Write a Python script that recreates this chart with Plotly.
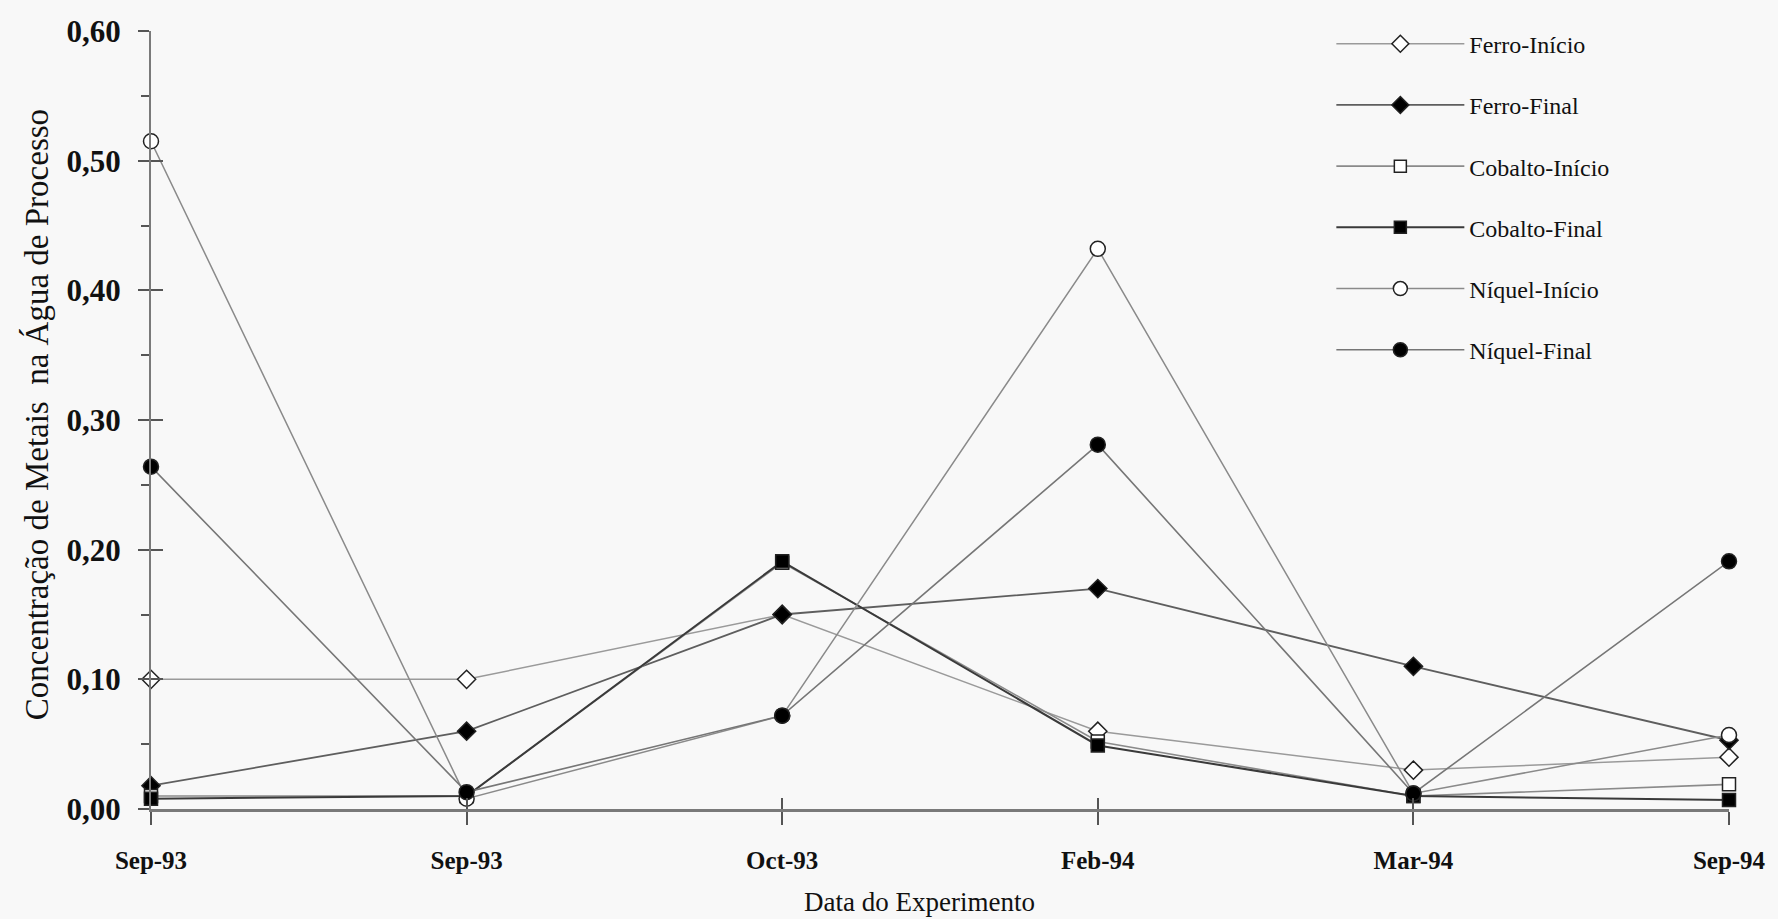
import plotly.graph_objects as go

dates = ["Sep-93", "Sep-93", "Oct-93", "Feb-94", "Mar-94", "Sep-94"]

ferro_inicio = [0.100, 0.100, 0.150, 0.060, 0.030, 0.040]
ferro_final = [0.018, 0.060, 0.150, 0.170, 0.110, 0.053]
cobalto_inicio = [0.010, 0.010, 0.190, 0.052, 0.010, 0.019]
cobalto_final = [0.008, 0.010, 0.191, 0.049, 0.010, 0.007]
niquel_inicio = [0.515, 0.008, 0.072, 0.432, 0.012, 0.057]
niquel_final = [0.264, 0.013, 0.072, 0.281, 0.012, 0.191]

y_ticks = [0.0, 0.1, 0.2, 0.3, 0.4, 0.5, 0.6]

x_pos = list(range(len(dates)))

series = [
    ("Ferro-Início", ferro_inicio, "diamond", "white", 14, "#9a9a9a", 1.5),
    ("Ferro-Final", ferro_final, "diamond", "black", 14, "#5e5e5e", 1.8),
    ("Cobalto-Início", cobalto_inicio, "square", "white", 13, "#8a8a8a", 1.6),
    ("Cobalto-Final", cobalto_final, "square", "black", 13, "#3a3a3a", 2.0),
    ("Níquel-Início", niquel_inicio, "circle", "white", 15, "#8a8a8a", 1.5),
    ("Níquel-Final", niquel_final, "circle", "black", 15, "#767676", 1.6),
]

fig = go.Figure()

# lines underneath
for name, vals, sym, fill, size, lc, lw in series:
    fig.add_trace(go.Scatter(
        x=x_pos, y=vals, mode="lines", line=dict(color=lc, width=lw),
        showlegend=False, hoverinfo="skip", cliponaxis=False))

# markers on top
for name, vals, sym, fill, size, lc, lw in series:
    fig.add_trace(go.Scatter(
        x=x_pos, y=vals, mode="markers", name=name,
        marker=dict(symbol=sym, size=size, color=fill,
                    line=dict(color="#222222", width=1.5)),
        showlegend=False, cliponaxis=False))

# legend entries
for i, (name, vals, sym, fill, size, lc, lw) in enumerate(series):
    fig.add_trace(go.Scatter(
        x=[None], y=[None], mode="lines+markers", name=name,
        legendgroup="g%d" % i,
        line=dict(color=lc, width=lw),
        marker=dict(symbol=sym, size=size - 1, color=fill,
                    line=dict(color="#222222", width=1.5))))

# dummy trace for overlay axes (crossing ticks)
fig.add_trace(go.Scatter(
    x=x_pos, y=niquel_final, mode="none", xaxis="x2", yaxis="y2",
    showlegend=False, hoverinfo="skip"))

serif = "Liberation Serif"
bg = "#f8f8f8"

fig.update_layout(
    width=1778, height=919,
    paper_bgcolor=bg, plot_bgcolor=bg,
    margin=dict(l=151, r=41, t=31, b=110),
    separators=",.",
    font=dict(family=serif, color="#111111"),
    xaxis=dict(
        range=[0, 5], tickmode="array", tickvals=x_pos, ticktext=dates,
        showgrid=False, zeroline=False,
        showline=True, linecolor="#7a7a7a", linewidth=2.5,
        ticks="outside", ticklen=13, tickwidth=1.5, tickcolor="#555555",
        ticklabelstandoff=14,
        tickfont=dict(family=serif, size=25, color="#111111", weight="bold"),
    ),
    yaxis=dict(
        range=[0, 0.6], tickmode="array", tickvals=y_ticks, tickformat=".2f",
        showgrid=False, zeroline=False,
        showline=True, linecolor="#7a7a7a", linewidth=2,
        ticks="outside", ticklen=11, tickwidth=1.5, tickcolor="#555555",
        minor=dict(dtick=0.05, ticks="outside", ticklen=8, tickwidth=1.5,
                   tickcolor="#555555", showgrid=False),
        ticklabelstandoff=11,
        tickfont=dict(family=serif, size=31, color="#111111", weight="bold"),
    ),
    xaxis2=dict(
        range=[0, 5], overlaying="x", tickmode="array",
        tickvals=x_pos, showticklabels=False, showgrid=False, zeroline=False,
        showline=False, ticks="inside", ticklen=11, tickwidth=1.5,
        tickcolor="#555555", anchor="y2",
    ),
    yaxis2=dict(
        range=[0, 0.6], overlaying="y", tickmode="array", tickvals=y_ticks,
        showticklabels=False, showgrid=False, zeroline=False, showline=False,
        ticks="inside", ticklen=12, tickwidth=1.5, tickcolor="#555555",
        anchor="x2", side="left",
    ),
    legend=dict(
        x=0.748, y=1.012, xanchor="left", yanchor="top",
        bgcolor="rgba(0,0,0,0)", borderwidth=0,
        font=dict(family=serif, size=24, color="#111111"),
        tracegroupgap=27, itemwidth=128,
    ),
    annotations=[
        dict(text="Concentração de Metais\u00a0 na Água de Processo",
             xref="paper", yref="paper", x=-0.0725, y=0.507,
             xanchor="center", yanchor="middle", textangle=-90,
             showarrow=False, font=dict(family=serif, size=33, color="#111111")),
        dict(text="Data do Experimento",
             xref="paper", yref="paper", x=0.487, y=-0.119,
             xanchor="center", yanchor="middle",
             showarrow=False, font=dict(family=serif, size=27, color="#111111")),
    ],
)

fig.write_html("out.html", config={"displayModeBar": False},
               post_script="document.body.style.margin='0';document.body.style.overflow='hidden';")
